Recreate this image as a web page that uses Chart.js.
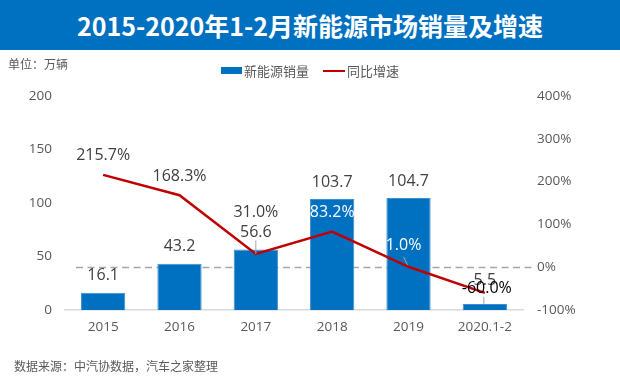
<!DOCTYPE html>
<html>
<head>
<meta charset="utf-8">
<script src="https://cdn.jsdelivr.net/npm/chart.js@4.4.1/dist/chart.umd.min.js"></script>
<style>
    body { margin: 0; background: #fff; }
    #wrap { position: relative; width: 620px; height: 381px; overflow: hidden; font-family: "Open Sans", "Noto Sans CJK SC", sans-serif; }
    #chart { position: absolute; left: 0; top: 0; }
    .title { position: absolute; left: 0; top: 0; width: 620px; height: 50px; background: #0070c0; color: #fff;
        font: bold 25px "Noto Sans CJK SC", sans-serif; line-height: 50px; text-align: center; }
    .unit { position: absolute; left: 8px; top: 55px; font: 12px "Noto Sans CJK SC", sans-serif; color: #595959; }
    .legend { position: absolute; top: 61px; left: 221px; font: 13px "Noto Sans CJK SC", sans-serif; color: #595959; display: flex; align-items: center; }
    .legend span.box { display: inline-block; width: 21px; height: 7px; background: #0070c0; margin-right: 2px; }
    .legend span.ln { display: inline-block; width: 22px; height: 2px; background: #c00000; margin: 0 2px 0 14px; }
    .source { position: absolute; left: 14px; top: 357px; font: 12px "Noto Sans CJK SC", sans-serif; color: #595959; }
</style>
</head>
<body>
<div id="wrap">
    <canvas id="chart" width="620" height="381"></canvas>
    <div class="title">2015-2020年1-2月新能源市场销量及增速</div>
    <div class="unit">单位：万辆</div>
    <div class="legend" id="legend"></div>
    <div class="source">数据来源：中汽协数据，汽车之家整理</div>
</div>
<script>
// Chart data
const categories = ['2015', '2016', '2017', '2018', '2019', '2020.1-2'];
const salesValues = [16.1, 43.2, 56.6, 103.7, 104.7, 5.5];
const growthValues = [215.7, 168.3, 31.0, 83.2, 1.0, -60.0];
const salesLabel = '新能源销量';
const growthLabel = '同比增速';

const numFont = '"Open Sans", "Noto Sans", sans-serif';

document.getElementById('legend').innerHTML =
    '<span class="box"></span>' + salesLabel + '<span class="ln"></span>' + growthLabel;

// label placement tweaks (pixel offsets from the mark)
const barLabelLift = [17, 17, 17, 17, 17, 24];
const lineLabelShift = [[0, -19], [0, -19], [0, -41], [0, -19], [-5, -21], [2, -4]];
const lineLabelColors = ['#404040', '#404040', '#404040', '#ffffff', '#ffffff', '#000000'];

const zeroLinePlugin = {
    id: 'zeroLine',
    beforeDatasetsDraw(chart) {
        const { ctx, chartArea, scales } = chart;
        const y = Math.round(scales.y1.getPixelForValue(0)) + 0.5;
        ctx.save();
        ctx.strokeStyle = '#a6a6a6';
        ctx.lineWidth = 1.5;
        ctx.setLineDash([7, 4.5]);
        ctx.beginPath();
        ctx.moveTo(chartArea.left + 11, y);
        ctx.lineTo(chartArea.right + 10, y);
        ctx.stroke();
        ctx.restore();
    },
};

const valueLabelPlugin = {
    id: 'valueLabels',
    afterDatasetsDraw(chart) {
        const { ctx } = chart;
        const bars = chart.getDatasetMeta(0).data;
        const points = chart.getDatasetMeta(1).data;
        ctx.save();
        ctx.textAlign = 'center';
        ctx.textBaseline = 'middle';
        ctx.font = '16px ' + numFont;

        // leader lines
        ctx.strokeStyle = '#a6a6a6';
        ctx.lineWidth = 1;
        ctx.beginPath();
        ctx.moveTo(bars[2].x, bars[2].y - barLabelLift[2] + 8);
        ctx.lineTo(bars[2].x, points[2].y);
        ctx.moveTo(bars[5].x - 1, points[5].y + lineLabelShift[5][1] + 8);
        ctx.lineTo(bars[5].x - 1, bars[5].y);
        ctx.moveTo(points[4].x - 5, points[4].y - 10);
        ctx.lineTo(points[4].x - 1, points[4].y - 2);
        ctx.stroke();

        bars.forEach((bar, i) => {
            ctx.fillStyle = '#404040';
            ctx.fillText(salesValues[i].toFixed(1), bar.x, bar.y - barLabelLift[i]);
        });
        points.forEach((pt, i) => {
            ctx.fillStyle = lineLabelColors[i];
            ctx.fillText(growthValues[i].toFixed(1) + '%', pt.x + lineLabelShift[i][0], pt.y + lineLabelShift[i][1]);
        });
        ctx.restore();
    },
};

new Chart(document.getElementById('chart'), {
    data: {
        labels: categories,
        datasets: [
            {
                type: 'bar',
                label: salesLabel,
                data: salesValues,
                backgroundColor: '#0070c0',
                borderColor: '#3d8fd1',
                borderWidth: 1,
                barPercentage: 0.58,
                categoryPercentage: 1,
                yAxisID: 'y',
                order: 2,
            },
            {
                type: 'line',
                label: growthLabel,
                data: growthValues,
                borderColor: '#c00000',
                borderWidth: 2.5,
                pointRadius: 0,
                tension: 0,
                yAxisID: 'y1',
                order: 1,
            },
        ],
    },
    options: {
        responsive: false,
        devicePixelRatio: 1,
        animation: false,
        layout: { padding: { top: 96, left: 0, right: 0, bottom: 0 } },
        plugins: { legend: { display: false }, tooltip: { enabled: false } },
        scales: {
            x: {
                grid: { display: false, drawTicks: false },
                border: { color: '#d9d9d9', width: 1.5 },
                ticks: { color: '#595959', font: { family: numFont, size: 13.5 }, padding: 9, maxRotation: 0 },
                afterFit(scale) { scale.height = 71; },
            },
            y: {
                position: 'left',
                min: 0,
                max: 200,
                grid: { display: false, drawTicks: false },
                border: { display: false },
                ticks: { stepSize: 50, color: '#595959', font: { family: numFont, size: 13.5 }, padding: 13 },
                afterFit(scale) { scale.width = 65; },
            },
            y1: {
                position: 'right',
                min: -100,
                max: 400,
                grid: { display: false, drawTicks: false },
                border: { display: false },
                ticks: {
                    stepSize: 100,
                    color: '#595959',
                    font: { family: numFont, size: 13.5 },
                    padding: 14,
                    callback: (v) => v + '%',
                },
                afterFit(scale) { scale.width = 97; },
            },
        },
    },
    plugins: [zeroLinePlugin, valueLabelPlugin],
});
</script>
</body>
</html>
